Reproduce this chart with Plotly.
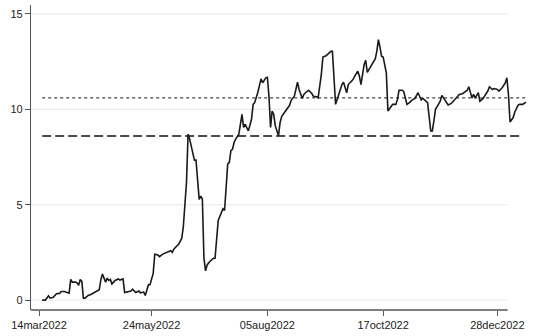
import pandas as pd
import plotly.graph_objects as go

# Daily series (date, value)
dates = [
    "2022-03-16", "2022-03-18", "2022-03-20", "2022-03-21", "2022-03-23", "2022-03-25",
    "2022-03-27", "2022-03-28", "2022-03-30", "2022-04-01", "2022-04-02", "2022-04-03",
    "2022-04-04", "2022-04-06", "2022-04-07", "2022-04-08", "2022-04-09", "2022-04-10",
    "2022-04-11", "2022-04-12", "2022-04-14", "2022-04-16", "2022-04-18", "2022-04-21",
    "2022-04-22", "2022-04-23", "2022-04-24", "2022-04-25", "2022-04-26", "2022-04-27",
    "2022-04-28", "2022-04-29", "2022-05-01", "2022-05-03", "2022-05-04", "2022-05-06",
    "2022-05-07", "2022-05-09", "2022-05-11", "2022-05-12", "2022-05-13", "2022-05-14",
    "2022-05-16", "2022-05-17", "2022-05-19", "2022-05-20", "2022-05-22", "2022-05-23",
    "2022-05-25", "2022-05-26", "2022-05-28", "2022-05-29", "2022-05-31", "2022-06-01",
    "2022-06-03", "2022-06-05", "2022-06-06", "2022-06-07", "2022-06-09", "2022-06-10",
    "2022-06-12", "2022-06-13", "2022-06-15", "2022-06-16", "2022-06-17", "2022-06-18",
    "2022-06-19", "2022-06-20", "2022-06-21", "2022-06-22", "2022-06-23", "2022-06-24",
    "2022-06-25", "2022-06-26", "2022-06-27", "2022-06-28", "2022-06-30", "2022-07-02",
    "2022-07-03", "2022-07-05", "2022-07-06", "2022-07-08", "2022-07-09", "2022-07-11",
    "2022-07-12", "2022-07-13", "2022-07-14", "2022-07-15", "2022-07-16", "2022-07-17",
    "2022-07-18", "2022-07-20", "2022-07-21", "2022-07-22", "2022-07-23", "2022-07-24",
    "2022-07-26", "2022-07-27", "2022-07-28", "2022-07-29", "2022-07-30", "2022-08-01",
    "2022-08-02", "2022-08-04", "2022-08-05", "2022-08-06", "2022-08-07", "2022-08-08",
    "2022-08-09", "2022-08-10", "2022-08-12", "2022-08-13", "2022-08-14", "2022-08-16",
    "2022-08-18", "2022-08-19", "2022-08-20", "2022-08-21", "2022-08-22", "2022-08-24",
    "2022-08-25", "2022-08-27", "2022-08-28", "2022-08-29", "2022-08-31", "2022-09-02",
    "2022-09-03", "2022-09-05", "2022-09-06", "2022-09-08", "2022-09-09", "2022-09-11",
    "2022-09-13", "2022-09-14", "2022-09-15", "2022-09-17", "2022-09-18", "2022-09-20",
    "2022-09-21", "2022-09-22", "2022-09-24", "2022-09-25", "2022-09-26", "2022-09-28",
    "2022-09-29", "2022-10-01", "2022-10-02", "2022-10-03", "2022-10-05", "2022-10-06",
    "2022-10-07", "2022-10-09", "2022-10-11", "2022-10-12", "2022-10-13", "2022-10-14",
    "2022-10-15", "2022-10-16", "2022-10-17", "2022-10-19", "2022-10-20", "2022-10-21",
    "2022-10-23", "2022-10-25", "2022-10-26", "2022-10-27", "2022-10-29", "2022-10-30",
    "2022-11-01", "2022-11-03", "2022-11-04", "2022-11-06", "2022-11-08", "2022-11-10",
    "2022-11-11", "2022-11-13", "2022-11-14", "2022-11-16", "2022-11-17", "2022-11-18",
    "2022-11-19", "2022-11-20", "2022-11-22", "2022-11-23", "2022-11-25", "2022-11-27",
    "2022-11-29", "2022-12-01", "2022-12-02", "2022-12-04", "2022-12-06", "2022-12-07",
    "2022-12-09", "2022-12-10", "2022-12-12", "2022-12-13", "2022-12-14", "2022-12-16",
    "2022-12-17", "2022-12-19", "2022-12-20", "2022-12-22", "2022-12-23", "2022-12-25",
    "2022-12-26", "2022-12-28", "2022-12-29", "2022-12-31", "2023-01-02", "2023-01-03",
    "2023-01-04", "2023-01-05", "2023-01-07", "2023-01-08", "2023-01-10", "2023-01-11",
    "2023-01-13", "2023-01-15",
]
values = [
    0.00, 0.00, 0.22, 0.10, 0.15, 0.33,
    0.35, 0.45, 0.45, 0.40, 0.36, 1.09,
    0.94, 0.94, 0.90, 0.77, 1.08, 0.98,
    0.10, 0.10, 0.24, 0.31, 0.40, 0.54,
    1.06, 1.37, 1.15, 0.94, 1.15, 1.03,
    1.08, 0.85, 1.03, 1.11, 1.05, 1.11,
    0.40, 0.45, 0.48, 0.57, 0.50, 0.40,
    0.48, 0.38, 0.42, 0.24, 0.80, 0.80,
    1.40, 2.40, 2.36, 2.28, 2.41, 2.45,
    2.50, 2.59, 2.50, 2.67, 2.85, 2.92,
    3.23, 3.84, 6.18, 8.70, 8.44, 8.09,
    7.74, 7.34, 7.34, 6.27, 5.28, 5.45,
    5.30, 2.20, 1.53, 1.84, 2.05, 2.19,
    2.19, 4.18, 4.36, 4.79, 4.70, 7.14,
    7.22, 7.83, 7.90, 8.26, 8.44, 8.61,
    8.70, 9.74, 9.05, 9.22, 9.05, 8.87,
    9.48, 10.26, 10.35, 10.60, 10.90, 11.60,
    11.39, 11.65, 11.68, 10.69, 9.05, 9.91,
    9.74, 9.13, 8.61, 9.30, 9.62, 9.86,
    10.09, 10.21, 10.47, 10.60, 10.69, 11.42,
    11.04, 10.57, 10.78, 10.87, 11.00, 10.83,
    10.69, 10.66, 10.60, 11.82, 12.74, 12.81,
    12.95, 13.04, 13.04, 10.26, 10.52, 11.04,
    11.30, 11.42, 10.87, 11.30, 11.39, 11.56,
    11.73, 12.00, 11.75, 11.30, 12.34, 12.57,
    11.94, 12.22, 12.47, 12.64, 13.04, 13.65,
    13.26, 12.78, 12.74, 11.91, 9.91, 10.03,
    10.26, 10.26, 10.52, 11.00, 11.00, 10.92,
    10.26, 10.38, 10.47, 10.57, 10.87, 10.49,
    10.57, 10.43, 10.35, 8.87, 8.87, 9.39,
    10.00, 10.14, 10.43, 10.73, 10.49, 10.23,
    10.31, 10.49, 10.60, 10.78, 10.82, 10.87,
    11.00, 11.18, 10.60, 10.78, 10.60, 10.87,
    10.43, 10.57, 10.69, 10.96, 11.18, 11.04,
    11.09, 11.04, 10.96, 11.13, 11.39, 11.65,
    10.78, 9.34, 9.57, 9.86, 10.21, 10.26,
    10.26, 10.38,
]

# Reference levels
mean_level = 10.6     # dotted
median_level = 8.6    # dashed
mean_span = ["2022-03-16", "2023-01-16"]
median_span = ["2022-03-16", "2023-01-11"]

# Axis ticks
xtick_vals = ["2022-03-14", "2022-05-24", "2022-08-05", "2022-10-17", "2022-12-28"]
xtick_text = ["14mar2022", "24may2022", "05aug2022", "17oct2022", "28dec2022"]
ytick_vals = [0, 5, 10, 15]

x_left = pd.Timestamp("2022-03-14") - pd.Timedelta(hours=121)
x_right = pd.Timestamp("2023-01-22")
axis_end = pd.Timestamp("2023-01-03 12:00")
grid_color = "#e8e8e8"
axis_color = "#555555"
font_family = "Liberation Sans, Arial, sans-serif"

fig = go.Figure()

fig.add_trace(go.Scatter(
    x=pd.to_datetime(mean_span), y=[mean_level, mean_level], mode="lines",
    line=dict(color="#444444", width=1.2, dash="dot"), hoverinfo="skip",
))
fig.add_trace(go.Scatter(
    x=pd.to_datetime(median_span), y=[median_level, median_level], mode="lines",
    line=dict(color="#111111", width=1.4, dash="9px,4px"), hoverinfo="skip",
))
fig.add_trace(go.Scatter(
    x=pd.to_datetime(dates), y=values, mode="lines",
    line=dict(color="#1a1a1a", width=1.6),
))

# Horizontal gridlines and the x axis line, limited to the axis extent
for yv in ytick_vals:
    fig.add_shape(type="line", xref="x", yref="y", x0=x_left, x1=axis_end,
                  y0=yv, y1=yv, line=dict(color=grid_color, width=1), layer="below")
fig.add_shape(type="line", xref="x", yref="paper", x0=x_left, x1=axis_end,
              y0=0, y1=0, line=dict(color=axis_color, width=1.3))

fig.update_layout(
    width=547, height=336,
    margin=dict(l=31, r=10, t=5, b=24),
    plot_bgcolor="white", paper_bgcolor="white",
    showlegend=False,
    font=dict(family=font_family, size=11, color="#222222"),
)
fig.update_xaxes(
    range=[x_left, x_right], showgrid=False, zeroline=False, showline=False,
    tickmode="array", tickvals=pd.to_datetime(xtick_vals), ticktext=xtick_text,
    ticks="outside", ticklen=5, tickcolor=axis_color, tickwidth=1,
    tickfont=dict(size=11, color="#222222"),
)
fig.update_yaxes(
    range=[-0.52, 15.47], showgrid=False, zeroline=False,
    showline=True, linecolor=axis_color, linewidth=1.3,
    tickmode="array", tickvals=ytick_vals, ticks="outside", ticklen=5,
    tickcolor=axis_color, tickwidth=1, tickfont=dict(size=11, color="#222222"),
)

fig.write_html("out.html")
